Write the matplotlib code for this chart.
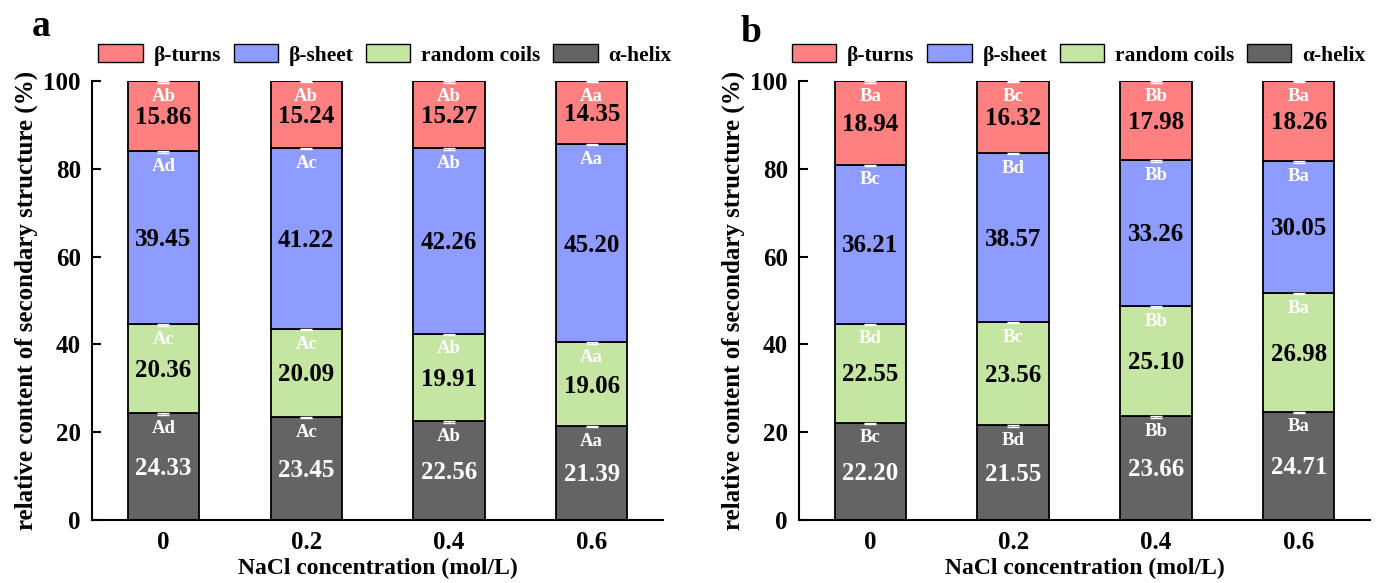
import matplotlib
matplotlib.use('Agg')
import matplotlib.pyplot as plt
from matplotlib.patches import Patch
import numpy as np

plt.rcParams['font.family'] = ['Liberation Serif', 'DejaVu Serif']
plt.rcParams['font.weight'] = 'bold'

# x categories
nacl = ['0', '0.2', '0.4', '0.6']
series_names = ['α-helix', 'random coils', 'β-sheet', 'β-turns']

# panel a
a_helix = [24.33, 23.45, 22.56, 21.39]
a_coils = [20.36, 20.09, 19.91, 19.06]
a_sheet = [39.45, 41.22, 42.26, 45.20]
a_turns = [15.86, 15.24, 15.27, 14.35]
a_helix_sig = ['Ad', 'Ac', 'Ab', 'Aa']
a_coils_sig = ['Ac', 'Ac', 'Ab', 'Aa']
a_sheet_sig = ['Ad', 'Ac', 'Ab', 'Aa']
a_turns_sig = ['Ab', 'Ab', 'Ab', 'Aa']
a_err = [0.5, 0.3, 0.4, 0.3]

# panel b
b_helix = [22.20, 21.55, 23.66, 24.71]
b_coils = [22.55, 23.56, 25.10, 26.98]
b_sheet = [36.21, 38.57, 33.26, 30.05]
b_turns = [18.94, 16.32, 17.98, 18.26]
b_helix_sig = ['Bc', 'Bd', 'Bb', 'Ba']
b_coils_sig = ['Bd', 'Bc', 'Bb', 'Ba']
b_sheet_sig = ['Bc', 'Bd', 'Bb', 'Ba']
b_turns_sig = ['Ba', 'Bc', 'Bb', 'Ba']
b_err = [0.4, 0.3, 0.4, 0.3]

colors = ['#646464', '#C4E6A2', '#8F9CFF', '#FF8080']
value_colors = ['white', 'black', 'black', 'black']


def draw_panel(ax, segs, sigs, err, leg_x):
    x = np.arange(len(nacl))
    bottom = np.zeros(len(nacl))
    for k, (vals, sig) in enumerate(zip(segs, sigs)):
        vals = np.array(vals)
        ax.bar(x, vals, 0.5, bottom=bottom, color=colors[k],
               edgecolor='black', linewidth=1.3, zorder=2)
        top = bottom + vals
        ax.errorbar(x, top, yerr=[err, [0] * len(x)], fmt='none',
                    ecolor='white', elinewidth=1, capsize=4, capthick=1, zorder=3)
        for i in range(len(x)):
            ax.text(x[i], top[i] - 3.5, sig[i], ha='center', va='center',
                    color='white', fontsize=13.5, fontweight='bold', zorder=4)
            ax.text(x[i], bottom[i] + vals[i] / 2 - 0.4, '%.2f' % vals[i], ha='center',
                    va='center', color=value_colors[k], fontsize=18,
                    fontweight='bold', zorder=4)
        bottom = top
    ax.set_xlim(-0.5, 3.5)
    ax.set_ylim(0, 100)
    ax.set_yticks([0, 20, 40, 60, 80, 100])
    ax.set_xticks(x)
    ax.set_xticklabels(nacl)
    ax.spines['top'].set_visible(False)
    ax.spines['right'].set_visible(False)
    ax.spines['left'].set_linewidth(1.5)
    ax.spines['bottom'].set_linewidth(1.5)
    ax.tick_params(axis='y', direction='in', length=6.5, width=1.5, labelsize=18, pad=8)
    ax.tick_params(axis='x', length=0, labelsize=18, pad=8)
    for lab in ax.get_xticklabels() + ax.get_yticklabels():
        lab.set_fontweight('bold')
    ax.set_xlabel('NaCl concentration (mol/L)', fontsize=17, fontweight='bold', labelpad=3)
    ax.set_ylabel('relative content of secondary structure (%)', fontsize=18,
                  fontweight='bold', labelpad=4)
    leg_handles = [Patch(facecolor=colors[k], edgecolor='black', linewidth=1.0)
                   for k in [3, 2, 1, 0]]
    leg_labels = [series_names[k] for k in [3, 2, 1, 0]]
    ax.legend(leg_handles, leg_labels, loc='center', bbox_to_anchor=(leg_x, 1.06),
              ncol=4, frameon=False, handlelength=2.05, handleheight=0.95,
              handletextpad=0.5, columnspacing=0.6, borderaxespad=0,
              prop={'weight': 'bold', 'size': 15.5})


fig = plt.figure(figsize=(13.76, 5.83), dpi=100)
ax_a = fig.add_axes([0.0669, 0.108, 0.415, 0.753])
ax_b = fig.add_axes([0.5807, 0.108, 0.415, 0.753])

draw_panel(ax_a, [a_helix, a_coils, a_sheet, a_turns],
           [a_helix_sig, a_coils_sig, a_sheet_sig, a_turns_sig], a_err, 0.513)
draw_panel(ax_b, [b_helix, b_coils, b_sheet, b_turns],
           [b_helix_sig, b_coils_sig, b_sheet_sig, b_turns_sig], b_err, 0.49)

fig.text(0.030, 0.955, 'a', fontsize=27, fontweight='bold', ha='center', va='center')
fig.text(0.546, 0.945, 'b', fontsize=27, fontweight='bold', ha='center', va='center')

plt.savefig('out.png', dpi=100)
plt.close()
